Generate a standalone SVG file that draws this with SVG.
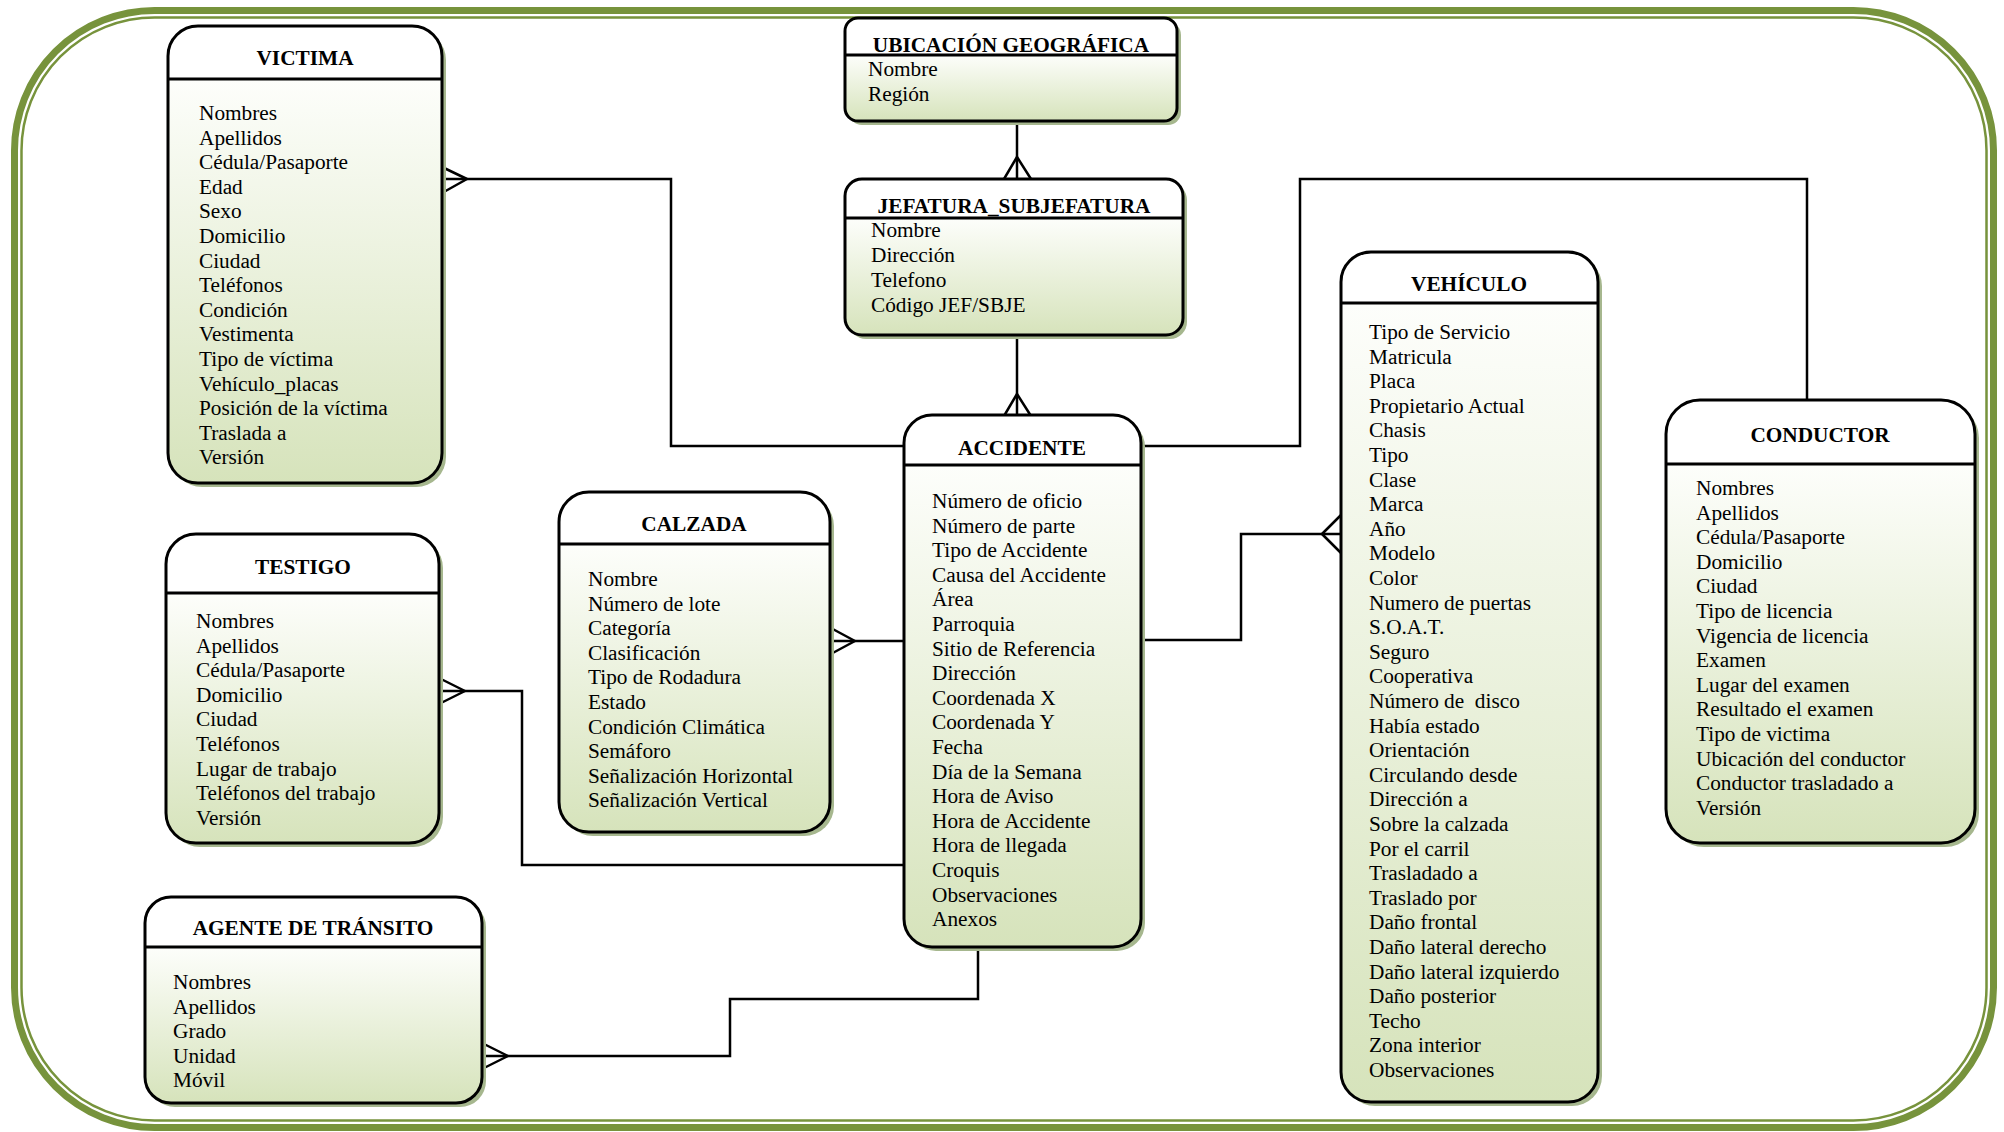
<svg xmlns="http://www.w3.org/2000/svg" width="2004" height="1132" viewBox="0 0 2004 1132">
<style>
.frame{fill:none;stroke:#77933c}
.sh{fill:#a6b78e}
.hd{fill:#ffffff}
.bd{fill:url(#g)}
.ol{fill:none;stroke:#000;stroke-width:3}
.hl{stroke:#000;stroke-width:3}
.t{font-family:"Liberation Serif","Times New Roman",serif;font-size:21.3px;font-weight:bold;text-anchor:middle;fill:#000}
.a{font-family:"Liberation Serif","Times New Roman",serif;font-size:21.3px;fill:#000}
.c{fill:none;stroke:#000;stroke-width:2.5}
</style>
<defs>
<linearGradient id="g" x1="0" y1="0" x2="0" y2="1">
<stop offset="0" stop-color="#fdfefb"/>
<stop offset="1" stop-color="#d6e3bb"/>
</linearGradient>
</defs>
<rect width="2004" height="1132" fill="#fff"/>
<rect class="frame" x="14.5" y="10.5" width="1979" height="1117" rx="140" stroke-width="7"/>
<rect class="frame" x="21.5" y="17.5" width="1965" height="1103" rx="133" stroke-width="2.5"/>

<g id="connectors">
<path class="c" d="M442,179 H671 V446 H904"/>
<path class="c" d="M467,179 L442,167 M467,179 L442,193"/>
<path class="c" d="M1141,446 H1300 V179 H1807 V400"/>
<path class="c" d="M1141,640 H1241 V534 H1341"/>
<path class="c" d="M1322,534 L1341,515 M1322,534 L1341,553"/>
<path class="c" d="M829,641 H904"/>
<path class="c" d="M855,641 L829,627 M855,641 L829,655"/>
<path class="c" d="M439,691 H522 V865 H904"/>
<path class="c" d="M465,691 L439,678 M465,691 L439,704"/>
<path class="c" d="M482,1056 H730 V999 H978 V947"/>
<path class="c" d="M508,1056 L482,1043 M508,1056 L482,1069"/>
<path class="c" d="M1017,121 V179"/>
<path class="c" d="M1017,157 L1004,179 M1017,157 L1031,179"/>
<path class="c" d="M1017,335 V415"/>
<path class="c" d="M1017,394 L1004,416 M1017,394 L1031,416"/>
</g>

<g id="victima">
<rect class="sh" x="172" y="30" width="274" height="457" rx="30"/>
<path class="hd" d="M168,79 V56 A30,30 0 0 1 198,26 H412 A30,30 0 0 1 442,56 V79 Z"/>
<path class="bd" d="M168,79 H442 V453 A30,30 0 0 1 412,483 H198 A30,30 0 0 1 168,453 Z"/>
<rect class="ol" x="168" y="26" width="274" height="457" rx="30"/>
<line class="hl" x1="168" y1="79" x2="442" y2="79"/>
<text class="t" x="305" y="65">VICTIMA</text>
<text class="a" x="199" y="120">Nombres</text>
<text class="a" x="199" y="144.6">Apellidos</text>
<text class="a" x="199" y="169.2">Cédula/Pasaporte</text>
<text class="a" x="199" y="193.8">Edad</text>
<text class="a" x="199" y="218.4">Sexo</text>
<text class="a" x="199" y="243">Domicilio</text>
<text class="a" x="199" y="267.6">Ciudad</text>
<text class="a" x="199" y="292.2">Teléfonos</text>
<text class="a" x="199" y="316.8">Condición</text>
<text class="a" x="199" y="341.4">Vestimenta</text>
<text class="a" x="199" y="366">Tipo de víctima</text>
<text class="a" x="199" y="390.6">Vehículo_placas</text>
<text class="a" x="199" y="415.2">Posición de la víctima</text>
<text class="a" x="199" y="439.8">Traslada a</text>
<text class="a" x="199" y="464.4">Versión</text>
</g>

<g id="ubicacion">
<rect class="sh" x="849" y="22" width="332" height="103" rx="13"/>
<path class="hd" d="M845,55 V31 A13,13 0 0 1 858,18 H1164 A13,13 0 0 1 1177,31 V55 Z"/>
<path class="bd" d="M845,55 H1177 V108 A13,13 0 0 1 1164,121 H858 A13,13 0 0 1 845,108 Z"/>
<rect class="ol" x="845" y="18" width="332" height="103" rx="13"/>
<line class="hl" x1="845" y1="55" x2="1177" y2="55"/>
<text class="t" x="1011" y="52">UBICACIÓN GEOGRÁFICA</text>
<text class="a" x="868" y="76">Nombre</text>
<text class="a" x="868" y="101">Región</text>
</g>

<g id="jefatura">
<rect class="sh" x="849" y="183" width="338" height="156" rx="17"/>
<path class="hd" d="M845,218 V196 A17,17 0 0 1 862,179 H1166 A17,17 0 0 1 1183,196 V218 Z"/>
<path class="bd" d="M845,218 H1183 V318 A17,17 0 0 1 1166,335 H862 A17,17 0 0 1 845,318 Z"/>
<rect class="ol" x="845" y="179" width="338" height="156" rx="17"/>
<line class="hl" x1="845" y1="218" x2="1183" y2="218"/>
<text class="t" x="1014" y="213">JEFATURA_SUBJEFATURA</text>
<text class="a" x="871" y="237">Nombre</text>
<text class="a" x="871" y="262">Dirección</text>
<text class="a" x="871" y="287">Telefono</text>
<text class="a" x="871" y="312">Código JEF/SBJE</text>
</g>

<g id="accidente">
<rect class="sh" x="908" y="419" width="237" height="532" rx="28"/>
<path class="hd" d="M904,465 V443 A28,28 0 0 1 932,415 H1113 A28,28 0 0 1 1141,443 V465 Z"/>
<path class="bd" d="M904,465 H1141 V919 A28,28 0 0 1 1113,947 H932 A28,28 0 0 1 904,919 Z"/>
<rect class="ol" x="904" y="415" width="237" height="532" rx="28"/>
<line class="hl" x1="904" y1="465" x2="1141" y2="465"/>
<text class="t" x="1022" y="455">ACCIDENTE</text>
<text class="a" x="932" y="508">Número de oficio</text>
<text class="a" x="932" y="532.6">Número de parte</text>
<text class="a" x="932" y="557.2">Tipo de Accidente</text>
<text class="a" x="932" y="581.8">Causa del Accidente</text>
<text class="a" x="932" y="606.4">Área</text>
<text class="a" x="932" y="631">Parroquia</text>
<text class="a" x="932" y="655.6">Sitio de Referencia</text>
<text class="a" x="932" y="680.2">Dirección</text>
<text class="a" x="932" y="704.8">Coordenada X</text>
<text class="a" x="932" y="729.4">Coordenada Y</text>
<text class="a" x="932" y="754">Fecha</text>
<text class="a" x="932" y="778.6">Día de la Semana</text>
<text class="a" x="932" y="803.2">Hora de Aviso</text>
<text class="a" x="932" y="827.8">Hora de Accidente</text>
<text class="a" x="932" y="852.4">Hora de llegada</text>
<text class="a" x="932" y="877">Croquis</text>
<text class="a" x="932" y="901.6">Observaciones</text>
<text class="a" x="932" y="926.2">Anexos</text>
</g>

<g id="calzada">
<rect class="sh" x="563" y="496" width="271" height="340" rx="30"/>
<path class="hd" d="M559,544 V522 A30,30 0 0 1 589,492 H800 A30,30 0 0 1 830,522 V544 Z"/>
<path class="bd" d="M559,544 H830 V802 A30,30 0 0 1 800,832 H589 A30,30 0 0 1 559,802 Z"/>
<rect class="ol" x="559" y="492" width="271" height="340" rx="30"/>
<line class="hl" x1="559" y1="544" x2="830" y2="544"/>
<text class="t" x="694" y="531">CALZADA</text>
<text class="a" x="588" y="586">Nombre</text>
<text class="a" x="588" y="610.6">Número de lote</text>
<text class="a" x="588" y="635.2">Categoría</text>
<text class="a" x="588" y="659.8">Clasificación</text>
<text class="a" x="588" y="684.4">Tipo de Rodadura</text>
<text class="a" x="588" y="709">Estado</text>
<text class="a" x="588" y="733.6">Condición Climática</text>
<text class="a" x="588" y="758.2">Semáforo</text>
<text class="a" x="588" y="782.8">Señalización Horizontal</text>
<text class="a" x="588" y="807.4">Señalización Vertical</text>
</g>

<g id="testigo">
<rect class="sh" x="170" y="538" width="273" height="309" rx="30"/>
<path class="hd" d="M166,593 V564 A30,30 0 0 1 196,534 H409 A30,30 0 0 1 439,564 V593 Z"/>
<path class="bd" d="M166,593 H439 V813 A30,30 0 0 1 409,843 H196 A30,30 0 0 1 166,813 Z"/>
<rect class="ol" x="166" y="534" width="273" height="309" rx="30"/>
<line class="hl" x1="166" y1="593" x2="439" y2="593"/>
<text class="t" x="303" y="574">TESTIGO</text>
<text class="a" x="196" y="628">Nombres</text>
<text class="a" x="196" y="652.6">Apellidos</text>
<text class="a" x="196" y="677.2">Cédula/Pasaporte</text>
<text class="a" x="196" y="701.8">Domicilio</text>
<text class="a" x="196" y="726.4">Ciudad</text>
<text class="a" x="196" y="751">Teléfonos</text>
<text class="a" x="196" y="775.6">Lugar de trabajo</text>
<text class="a" x="196" y="800.2">Teléfonos del trabajo</text>
<text class="a" x="196" y="824.8">Versión</text>
</g>

<g id="agente">
<rect class="sh" x="149" y="901" width="337" height="206" rx="26"/>
<path class="hd" d="M145,947 V923 A26,26 0 0 1 171,897 H456 A26,26 0 0 1 482,923 V947 Z"/>
<path class="bd" d="M145,947 H482 V1077 A26,26 0 0 1 456,1103 H171 A26,26 0 0 1 145,1077 Z"/>
<rect class="ol" x="145" y="897" width="337" height="206" rx="26"/>
<line class="hl" x1="145" y1="947" x2="482" y2="947"/>
<text class="t" x="313" y="935">AGENTE DE TRÁNSITO</text>
<text class="a" x="173" y="989">Nombres</text>
<text class="a" x="173" y="1013.6">Apellidos</text>
<text class="a" x="173" y="1038.2">Grado</text>
<text class="a" x="173" y="1062.8">Unidad</text>
<text class="a" x="173" y="1087.4">Móvil</text>
</g>

<g id="vehiculo">
<rect class="sh" x="1345" y="256" width="257" height="850" rx="30"/>
<path class="hd" d="M1341,303 V282 A30,30 0 0 1 1371,252 H1568 A30,30 0 0 1 1598,282 V303 Z"/>
<path class="bd" d="M1341,303 H1598 V1072 A30,30 0 0 1 1568,1102 H1371 A30,30 0 0 1 1341,1072 Z"/>
<rect class="ol" x="1341" y="252" width="257" height="850" rx="30"/>
<line class="hl" x1="1341" y1="303" x2="1598" y2="303"/>
<text class="t" x="1469" y="291">VEHÍCULO</text>
<text class="a" x="1369" y="339">Tipo de Servicio</text>
<text class="a" x="1369" y="363.6">Matricula</text>
<text class="a" x="1369" y="388.2">Placa</text>
<text class="a" x="1369" y="412.8">Propietario Actual</text>
<text class="a" x="1369" y="437.4">Chasis</text>
<text class="a" x="1369" y="462">Tipo</text>
<text class="a" x="1369" y="486.6">Clase</text>
<text class="a" x="1369" y="511.2">Marca</text>
<text class="a" x="1369" y="535.8">Año</text>
<text class="a" x="1369" y="560.4">Modelo</text>
<text class="a" x="1369" y="585">Color</text>
<text class="a" x="1369" y="609.6">Numero de puertas</text>
<text class="a" x="1369" y="634.2">S.O.A.T.</text>
<text class="a" x="1369" y="658.8">Seguro</text>
<text class="a" x="1369" y="683.4">Cooperativa</text>
<text class="a" x="1369" y="708" xml:space="preserve">Número de  disco</text>
<text class="a" x="1369" y="732.6">Había estado</text>
<text class="a" x="1369" y="757.2">Orientación</text>
<text class="a" x="1369" y="781.8">Circulando desde</text>
<text class="a" x="1369" y="806.4">Dirección a</text>
<text class="a" x="1369" y="831">Sobre la calzada</text>
<text class="a" x="1369" y="855.6">Por el carril</text>
<text class="a" x="1369" y="880.2">Trasladado a</text>
<text class="a" x="1369" y="904.8">Traslado por</text>
<text class="a" x="1369" y="929.4">Daño frontal</text>
<text class="a" x="1369" y="954">Daño lateral derecho</text>
<text class="a" x="1369" y="978.6">Daño lateral izquierdo</text>
<text class="a" x="1369" y="1003.2">Daño posterior</text>
<text class="a" x="1369" y="1027.8">Techo</text>
<text class="a" x="1369" y="1052.4">Zona interior</text>
<text class="a" x="1369" y="1077">Observaciones</text>
</g>

<g id="conductor">
<rect class="sh" x="1670" y="404" width="309" height="443" rx="34"/>
<path class="hd" d="M1666,464 V434 A34,34 0 0 1 1700,400 H1941 A34,34 0 0 1 1975,434 V464 Z"/>
<path class="bd" d="M1666,464 H1975 V809 A34,34 0 0 1 1941,843 H1700 A34,34 0 0 1 1666,809 Z"/>
<rect class="ol" x="1666" y="400" width="309" height="443" rx="34"/>
<line class="hl" x1="1666" y1="464" x2="1975" y2="464"/>
<text class="t" x="1820" y="442">CONDUCTOR</text>
<text class="a" x="1696" y="495">Nombres</text>
<text class="a" x="1696" y="519.6">Apellidos</text>
<text class="a" x="1696" y="544.2">Cédula/Pasaporte</text>
<text class="a" x="1696" y="568.8">Domicilio</text>
<text class="a" x="1696" y="593.4">Ciudad</text>
<text class="a" x="1696" y="618">Tipo de licencia</text>
<text class="a" x="1696" y="642.6">Vigencia de licencia</text>
<text class="a" x="1696" y="667.2">Examen</text>
<text class="a" x="1696" y="691.8">Lugar del examen</text>
<text class="a" x="1696" y="716.4">Resultado el examen</text>
<text class="a" x="1696" y="741">Tipo de victima</text>
<text class="a" x="1696" y="765.6">Ubicación del conductor</text>
<text class="a" x="1696" y="790.2">Conductor trasladado a</text>
<text class="a" x="1696" y="814.8">Versión</text>
</g>
</svg>
